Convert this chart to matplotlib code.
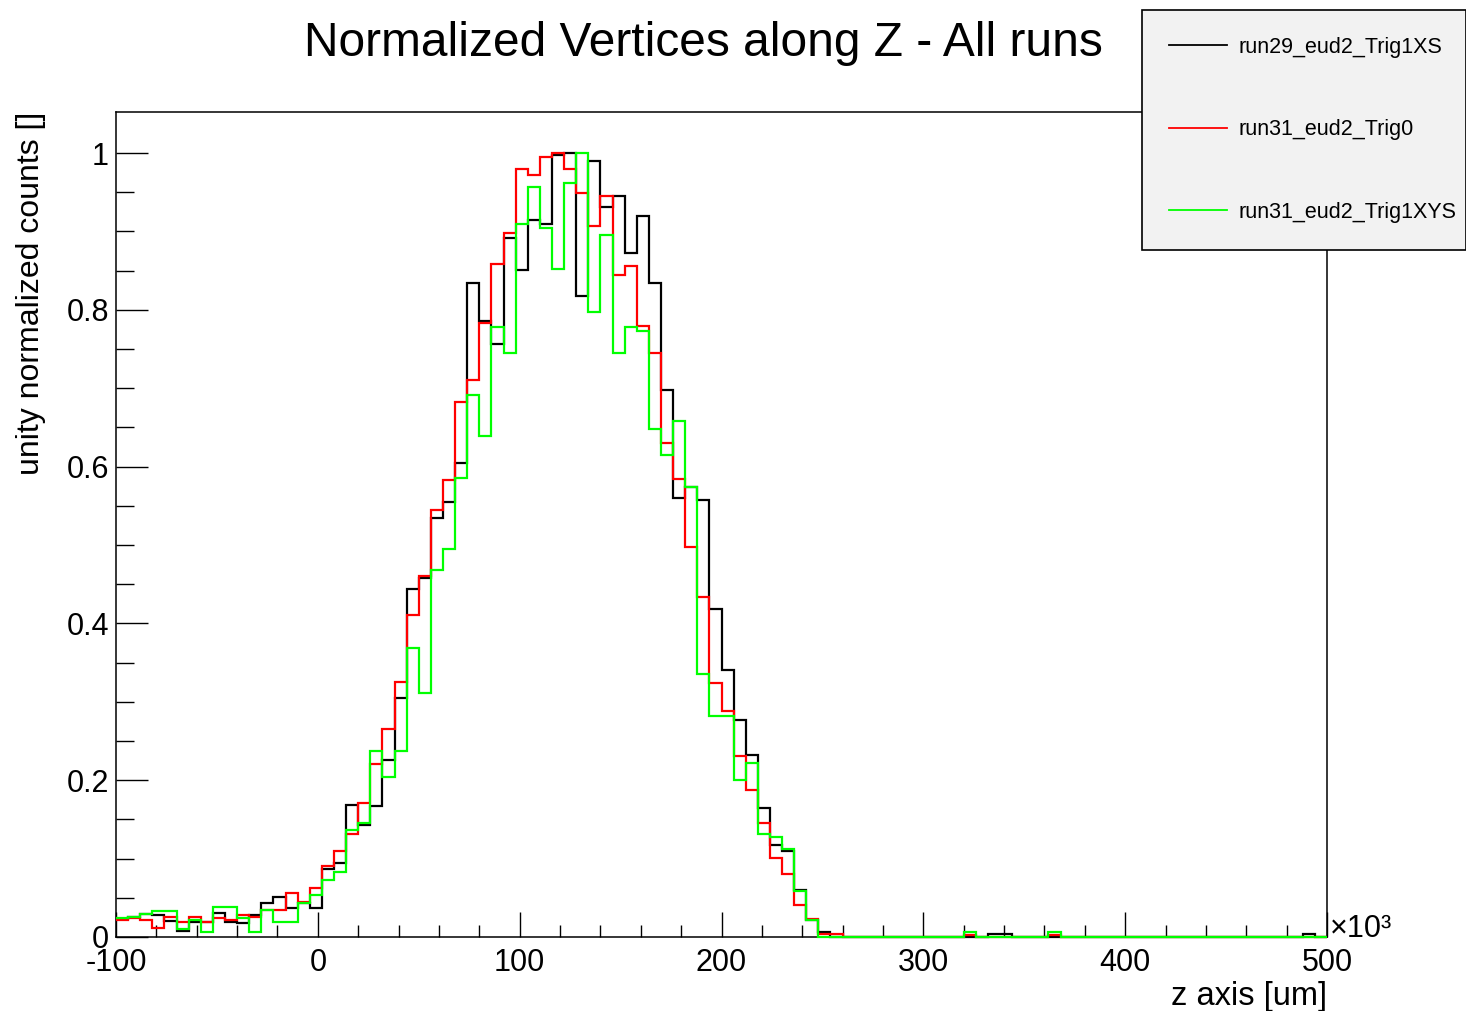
import numpy as np
import matplotlib.pyplot as plt
from matplotlib.ticker import MultipleLocator, FixedLocator

plt.rcParams['font.family'] = ['Liberation Sans', 'DejaVu Sans']
plt.rcParams['axes.unicode_minus'] = False

# 100 bins from -100 to 500 (x10^3)
edges = np.linspace(-100, 500, 101)

run29_trig1xs = [
    0.0225, 0.026, 0.029, 0.028, 0.020, 0.008, 0.019, 0.0187, 0.031, 0.0196,
    0.0174, 0.028, 0.043, 0.0506, 0.0366, 0.043, 0.0366, 0.0863, 0.0948, 0.168,
    0.143, 0.1675, 0.2258, 0.3044, 0.4435, 0.4575, 0.534, 0.555, 0.605, 0.834,
    0.786, 0.756, 0.892, 0.851, 0.9146, 0.909, 0.997, 1.0, 0.8176, 0.990,
    0.9316, 0.945, 0.873, 0.9196, 0.834, 0.6977, 0.5595, 0.574, 0.558, 0.418,
    0.3406, 0.2768, 0.232, 0.164, 0.117, 0.110, 0.060, 0.022, 0.006, 0.0,
    0, 0, 0, 0, 0, 0, 0, 0, 0, 0,
    0, 0, 0.0034, 0.0034, 0, 0, 0, 0, 0, 0,
    0, 0, 0, 0, 0, 0, 0, 0, 0, 0,
    0, 0, 0, 0, 0, 0, 0, 0, 0.0038, 0,
]

run31_trig0 = [
    0.0217, 0.024, 0.0217, 0.011, 0.025, 0.0196, 0.025, 0.0196, 0.0238, 0.0217,
    0.028, 0.025, 0.0344, 0.0344, 0.0557, 0.045, 0.062, 0.0906, 0.1097, 0.132,
    0.1705, 0.2207, 0.265, 0.3257, 0.4107, 0.4605, 0.5446, 0.583, 0.683, 0.711,
    0.7836, 0.859, 0.898, 0.979, 0.972, 0.995, 1.0, 0.979, 0.949, 0.907,
    0.945, 0.845, 0.856, 0.779, 0.745, 0.6305, 0.5838, 0.497, 0.4332, 0.3244,
    0.288, 0.231, 0.188, 0.145, 0.101, 0.080, 0.041, 0.0225, 0.0034, 0.0034,
    0, 0, 0, 0, 0, 0, 0, 0, 0, 0,
    0.002, 0, 0, 0, 0, 0, 0, 0.002, 0, 0,
    0, 0, 0, 0, 0, 0, 0, 0, 0, 0,
    0, 0, 0, 0, 0, 0, 0, 0, 0, 0,
]

run31_trig1xys = [
    0.0238, 0.025, 0.029, 0.0336, 0.0336, 0.0098, 0.022, 0.0068, 0.0387, 0.0387,
    0.0238, 0.0068, 0.0344, 0.0196, 0.0196, 0.043, 0.0536, 0.0727, 0.0833, 0.137,
    0.145, 0.2377, 0.2037, 0.2377, 0.368, 0.311, 0.468, 0.4945, 0.586, 0.691,
    0.639, 0.7776, 0.745, 0.909, 0.956, 0.904, 0.8516, 0.962, 1.0, 0.7976,
    0.8954, 0.745, 0.7776, 0.773, 0.6475, 0.6148, 0.6586, 0.5744, 0.336, 0.282,
    0.282, 0.2003, 0.2223, 0.131, 0.127, 0.112, 0.059, 0.022, 0.0, 0.0,
    0, 0, 0, 0, 0, 0, 0, 0, 0, 0,
    0.006, 0, 0, 0, 0, 0, 0, 0.006, 0, 0,
    0, 0, 0, 0, 0, 0, 0, 0, 0, 0,
    0, 0, 0, 0, 0, 0, 0, 0, 0, 0,
]

series = [run29_trig1xs, run31_trig0, run31_trig1xys]
labels = ["run29_eud2_Trig1XS", "run31_eud2_Trig0", "run31_eud2_Trig1XYS"]
colors = ["black", "#ff0000", "#00ff00"]

fig = plt.figure(figsize=(14.66, 10.11), dpi=100)
ax = fig.add_axes([116/1466, 1 - 937/1011, 1211/1466, 825/1011])

handles = []
for i in range(len(series)):
    h = ax.stairs(series[i], edges, baseline=None, color=colors[i],
                  linewidth=1.6, label=labels[i], zorder=3 + i, clip_on=False)
    handles.append(h)

ax.set_xlim(-100, 500)
ax.set_ylim(0, (937 - 112) / 784)

ax.xaxis.set_major_locator(MultipleLocator(100))
ax.xaxis.set_minor_locator(MultipleLocator(20))
ax.set_yticks([0, 0.2, 0.4, 0.6, 0.8, 1.0], ["0", "0.2", "0.4", "0.6", "0.8", "1"])
ax.yaxis.set_minor_locator(FixedLocator(np.arange(0, 1.001, 0.05)))

ax.tick_params(axis='both', which='both', direction='in', width=1.0,
               top=False, right=False, labelsize=22)
ax.tick_params(axis='x', which='major', length=18, pad=8)
ax.tick_params(axis='x', which='minor', length=9)
ax.tick_params(axis='y', which='major', length=23, pad=5)
ax.tick_params(axis='y', which='minor', length=13)
for s in ax.spines.values():
    s.set_linewidth(1.1)

ax.set_xlabel("z axis [um]", fontsize=23.5, loc='right')
ax.xaxis.set_label_coords(1.0, -0.053)
ax.set_ylabel("unity normalized counts []", fontsize=23, loc='top')
ax.yaxis.set_label_coords(-0.058, 1.0)

ax.text(1.002, -0.008, "×10³", transform=ax.transAxes, fontsize=22,
        ha='left', va='bottom')

fig.text(703/1466, 1 - 44/1011, "Normalized Vertices along Z - All runs",
         fontsize=34.5, ha='center', va='center')

leg = fig.legend(handles=handles, labels=labels, loc='upper left',
                 bbox_to_anchor=(1142/1466, 1 - 252/1011, 324/1466, 242/1011),
                 mode='expand', borderaxespad=0, fontsize=15.5,
                 handlelength=2.7, handletextpad=0.55, labelspacing=2.85,
                 borderpad=1.25, fancybox=False, framealpha=1,
                 facecolor='#f2f2f2', edgecolor='black')
leg.get_frame().set_linewidth(1.2)
for line in leg.get_lines():
    line.set_linewidth(1.3)

fig.savefig("out.png", dpi=100)
